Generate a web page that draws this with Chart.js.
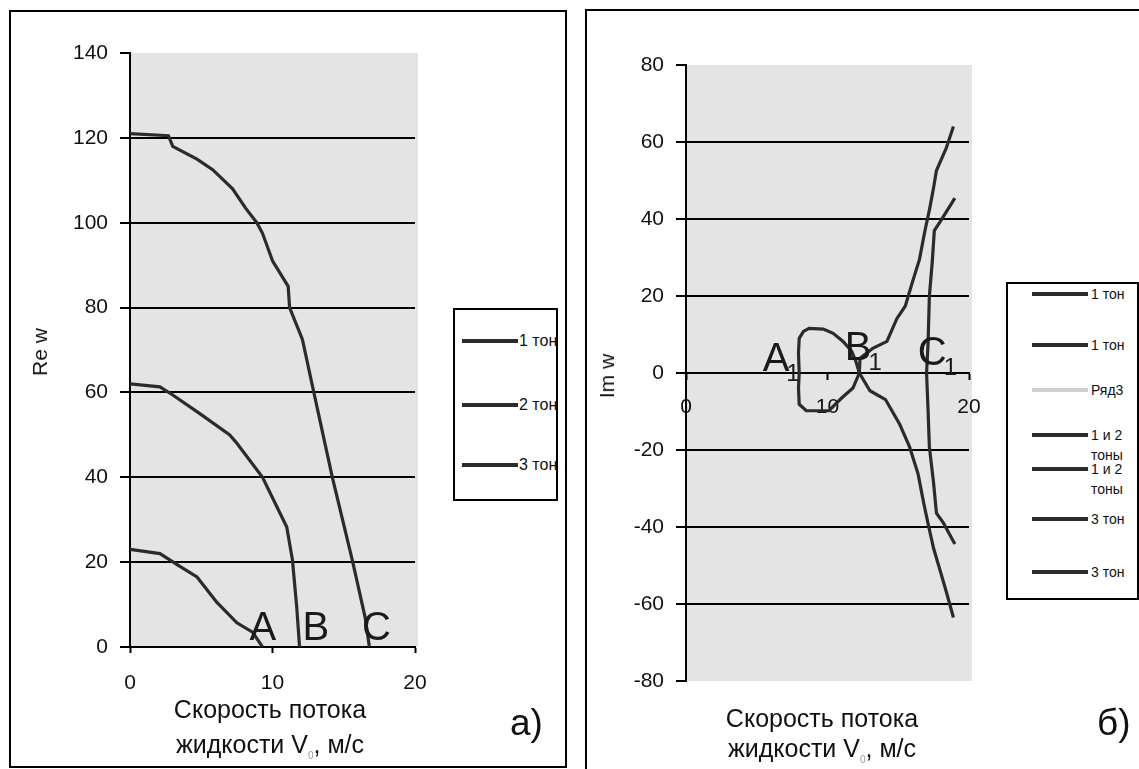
<!DOCTYPE html>
<html lang="ru">
<head>
<meta charset="utf-8">
<title>Re w / Im w</title>
<script src="https://cdn.jsdelivr.net/npm/chart.js@4.4.1/dist/chart.umd.min.js"></script>
<style>
  html, body { margin: 0; padding: 0; background: #fff; }
  body { width: 1139px; height: 769px; position: relative; overflow: hidden;
         font-family: "Liberation Sans", Arial, sans-serif; color: #111; }
  .panel { position: absolute; border: 2px solid #000; box-sizing: border-box; }
  canvas { position: absolute; top: 0; }
  .txt { position: absolute; white-space: nowrap; }
  .ytitle { font-size: 21px; transform: translate(-50%, -50%) rotate(-90deg); }
  .xtitle { width: 320px; text-align: center; font-size: 25px; }
  .xtitle sub { font-size: 10px; color: #999; }
  .tag { font-size: 37px; }
  .legend { position: absolute; border: 2px solid #000; box-sizing: border-box; overflow: hidden; background: #fff; }
  .legend .row { position: absolute; left: 0; right: 0; height: 20px; }
  .legend .ln { position: absolute; top: 8px; height: 4px; }
  .legend .lb { position: absolute; top: 0; line-height: 20px; white-space: normal; }
</style>
</head>
<body>

<div class="panel" style="left:9px; top:10px; width:558px; height:758px;"></div>
<div class="panel" style="left:585px; top:9px; width:600px; height:800px;"></div>

<canvas id="chartA" width="570" height="769" style="left:0"></canvas>
<canvas id="chartB" width="562" height="769" style="left:577px"></canvas>

<div class="txt ytitle" style="left:40px; top:352px;">Re w</div>
<div class="txt ytitle" style="left:607px; top:376px;">Im w</div>

<div class="txt xtitle" style="left:110px; top:692px; line-height:35px;">Скорость потока<br>жидкости V<sub>0</sub>, м/с</div>
<div class="txt xtitle" style="left:662px; top:703px; line-height:30px;">Скорость потока<br>жидкости V<sub>0</sub>, м/с</div>

<div class="txt tag" style="left:510px; top:702px;">а)</div>
<div class="txt tag" style="left:1097px; top:702px;">б)</div>

<div class="legend" id="legendA" style="left:453px; top:308px; width:105px; height:193px;"></div>
<div class="legend" id="legendB" style="left:1006px; top:282px; width:133px; height:318px;"></div>

<script>
// Данные графика а): Re w от скорости потока V0
const namesA = ['1 тон', '2 тон', '3 тон'];
const tone1V = [0, 2.7, 3.0, 4.7, 5.8, 7.2, 8.1, 8.9, 9.3, 10.0, 11.1, 11.2, 12.1, 12.9, 14.2, 15.6, 16.5, 16.8];
const tone1Re = [121, 120.5, 118, 115, 112.5, 108, 103.5, 100, 97.5, 91, 85, 80, 72.5, 60, 40, 20.5, 7, 0];
const tone2V = [0, 2.1, 3.0, 4.9, 7.0, 7.5, 9.3, 11.0, 11.4, 11.7, 11.9];
const tone2Re = [62, 61.3, 59.4, 55, 50, 48, 40, 28.3, 20.5, 9.4, 0];
const tone3V = [0, 2.1, 3.5, 4.7, 6.1, 7.5, 8.6, 9.3];
const tone3Re = [23, 22, 19, 16.5, 10.5, 5.7, 3.5, 0];

// Данные графика б): Im w от скорости потока V0
const namesB = ['1 тон', '1 тон', 'Ряд3', '1 и 2 тоны', '1 и 2 тоны', '3 тон', '3 тон'];
const im1UpV = [12.25, 12.3, 13.2, 14.2, 14.9, 15.5, 16.0, 16.5, 16.9, 17.2, 17.5, 17.7, 18.4, 18.9];
const im1Up = [0, 3.8, 6.4, 8.2, 14.1, 17.4, 23.6, 29.5, 37.2, 42.3, 48.2, 52.6, 58.5, 64];
const im1DownV = [12.25, 13.0, 14.1, 15.1, 15.8, 16.4, 16.8, 17.1, 17.5, 18.0, 18.4, 18.9];
const im1Down = [0, -4.6, -6.9, -13.3, -19.2, -26.2, -33.8, -39, -45.6, -51.8, -56.9, -63.5];
const row3V = [];
const row3 = [];
const im12UpV = [8.0, 7.95, 8.0, 8.3, 8.7, 9.7, 10.4, 11.1, 11.7, 12.0, 12.25];
const im12Up = [0, 5, 9, 10.8, 11.6, 11.4, 10.3, 8.2, 5.7, 3.1, 0];
const im12DownV = [8.0, 7.95, 8.0, 8.5, 10.1, 11.0, 11.8, 12.25];
const im12Down = [0, -4, -8.1, -9.8, -9.8, -6.5, -3.9, 0];
const im3UpV = [17.0, 17.1, 17.2, 17.4, 17.55, 18.0, 19.0];
const im3Up = [0, 7, 20, 28.7, 37, 39.5, 45.4];
const im3DownV = [17.0, 17.1, 17.2, 17.5, 17.7, 18.2, 19.0];
const im3Down = [0, -9, -19.2, -28.7, -36.4, -39, -44.4];

// Метки точек A, B, C (в координатах графика)
const marks = ['A', 'B', 'C'];
const marksAV = [9.33, 13.05, 17.3];
const marksARe = [1.6, 1.6, 1.6];
const marksBV = [6.36, 12.16, 17.4];
const marksBIm = [0.5, 3.4, 2.1];

const lineColor = '#2b2b2b';
const fontFamily = '"Liberation Sans", Arial, sans-serif';
const tickFont = { family: fontFamily, size: 21 };

function toPoints(xs, ys) {
    return xs.map((x, i) => ({ x: x, y: ys[i] }));
}

function makeDataset(label, xs, ys, color) {
    return {
        label: label,
        data: toPoints(xs, ys),
        showLine: true,
        borderColor: color,
        backgroundColor: color,
        borderWidth: 3.2,
        pointRadius: 0,
        tension: 0
    };
}

// Серый фон области построения
const greyArea = {
    id: 'greyArea',
    beforeDraw(chart) {
        const a = chart.chartArea;
        const c = chart.ctx;
        c.save();
        c.fillStyle = '#e4e4e4';
        c.fillRect(a.left, a.top, a.right - a.left + 3, a.bottom - a.top);
        c.restore();
    }
};

// Подписи A, B, C прямо на графике
function markPlugin(vs, ws, sub) {
    return {
        id: 'marks',
        afterDatasetsDraw(chart) {
            const c = chart.ctx;
            const sx = chart.scales.x;
            const sy = chart.scales.y;
            c.save();
            c.fillStyle = '#1a1a1a';
            c.textBaseline = 'alphabetic';
            marks.forEach((t, i) => {
                const px = sx.getPixelForValue(vs[i]);
                const py = sy.getPixelForValue(ws[i]);
                c.font = '40px ' + fontFamily;
                c.textAlign = 'center';
                c.fillText(t, px, py);
                if (sub) {
                    const w = c.measureText(t).width;
                    c.font = '24px ' + fontFamily;
                    c.textAlign = 'left';
                    c.fillText(sub, px + w / 2 - 3, py + 10);
                }
            });
            c.restore();
        }
    };
}

function yGrid(edge) {
    return {
        color: ctx => (ctx.tick && Math.abs(ctx.tick.value) === edge) ? 'rgba(0,0,0,0)' : '#000',
        lineWidth: 2,
        tickLength: 10,
        tickColor: '#000',
        tickWidth: 2
    };
}

// График а)
new Chart(document.getElementById('chartA').getContext('2d'), {
    type: 'scatter',
    data: {
        datasets: [
            makeDataset(namesA[0], tone1V, tone1Re, lineColor),
            makeDataset(namesA[1], tone2V, tone2Re, lineColor),
            makeDataset(namesA[2], tone3V, tone3Re, lineColor)
        ]
    },
    options: {
        responsive: false,
        animation: false,
        devicePixelRatio: 1,
        layout: { padding: { left: 70, top: 53, right: 155, bottom: 0 } },
        plugins: { legend: { display: false }, tooltip: { enabled: false } },
        scales: {
            x: {
                type: 'linear', min: 0, max: 20,
                ticks: { stepSize: 10, color: '#111', font: tickFont, padding: 18, maxRotation: 0 },
                grid: { drawOnChartArea: false, tickLength: 6, tickColor: '#000', tickWidth: 2 },
                border: { color: '#000', width: 2 },
                afterFit: s => { s.height = 122; }
            },
            y: {
                type: 'linear', min: 0, max: 140,
                ticks: { stepSize: 20, color: '#111', font: tickFont, padding: 12 },
                grid: yGrid(140),
                border: { color: '#000', width: 2 },
                afterFit: s => { s.width = 60; }
            }
        }
    },
    plugins: [greyArea, markPlugin(marksAV, marksARe, null)]
});

// График б)
const colorsB = [lineColor, lineColor, '#cfcfcf', lineColor, lineColor, lineColor, lineColor];
new Chart(document.getElementById('chartB').getContext('2d'), {
    type: 'scatter',
    data: {
        datasets: [
            makeDataset(namesB[0], im1UpV, im1Up, colorsB[0]),
            makeDataset(namesB[1], im1DownV, im1Down, colorsB[1]),
            makeDataset(namesB[2], row3V, row3, colorsB[2]),
            makeDataset(namesB[3], im12UpV, im12Up, colorsB[3]),
            makeDataset(namesB[4], im12DownV, im12Down, colorsB[4]),
            makeDataset(namesB[5], im3UpV, im3Up, colorsB[5]),
            makeDataset(namesB[6], im3DownV, im3Down, colorsB[6])
        ]
    },
    options: {
        responsive: false,
        animation: false,
        devicePixelRatio: 1,
        layout: { padding: { left: 49, top: 65, right: 170, bottom: 88 } },
        plugins: { legend: { display: false }, tooltip: { enabled: false } },
        scales: {
            x: {
                type: 'linear', min: 0, max: 20, position: { y: 0 },
                ticks: { stepSize: 10, color: '#111', font: tickFont, padding: 16, maxRotation: 0 },
                grid: { drawOnChartArea: false, tickLength: 6, tickColor: '#000', tickWidth: 2 },
                border: { color: '#000', width: 2 }
            },
            y: {
                type: 'linear', min: -80, max: 80,
                ticks: { stepSize: 20, color: '#111', font: tickFont, padding: 12 },
                grid: yGrid(80),
                border: { color: '#000', width: 2 },
                afterFit: s => { s.width = 60; }
            }
        }
    },
    plugins: [greyArea, markPlugin(marksBV, marksBIm, '1')]
});

// Легенды (как в Excel: рамка, текст обрезается)
function buildLegend(boxId, names, colors, rows, lineLeft, lineWidth, textLeft, textWidth, fontSize) {
    const box = document.getElementById(boxId);
    names.forEach((name, i) => {
        const row = document.createElement('div');
        row.className = 'row';
        row.style.top = (rows[i] - 10) + 'px';
        const ln = document.createElement('div');
        ln.className = 'ln';
        ln.style.left = lineLeft + 'px';
        ln.style.width = lineWidth + 'px';
        ln.style.background = colors[i];
        const lb = document.createElement('div');
        lb.className = 'lb';
        lb.style.left = textLeft + 'px';
        lb.style.width = textWidth + 'px';
        lb.style.fontSize = fontSize + 'px';
        lb.textContent = name;
        row.appendChild(ln);
        row.appendChild(lb);
        box.appendChild(row);
    });
}

buildLegend('legendA', namesA, [lineColor, lineColor, lineColor], [31, 95, 155], 7, 56, 64, 60, 16);
buildLegend('legendB', namesB, colorsB, [10, 61, 106, 151, 185, 235, 288], 24, 56, 83, 46, 14);
</script>
</body>
</html>
